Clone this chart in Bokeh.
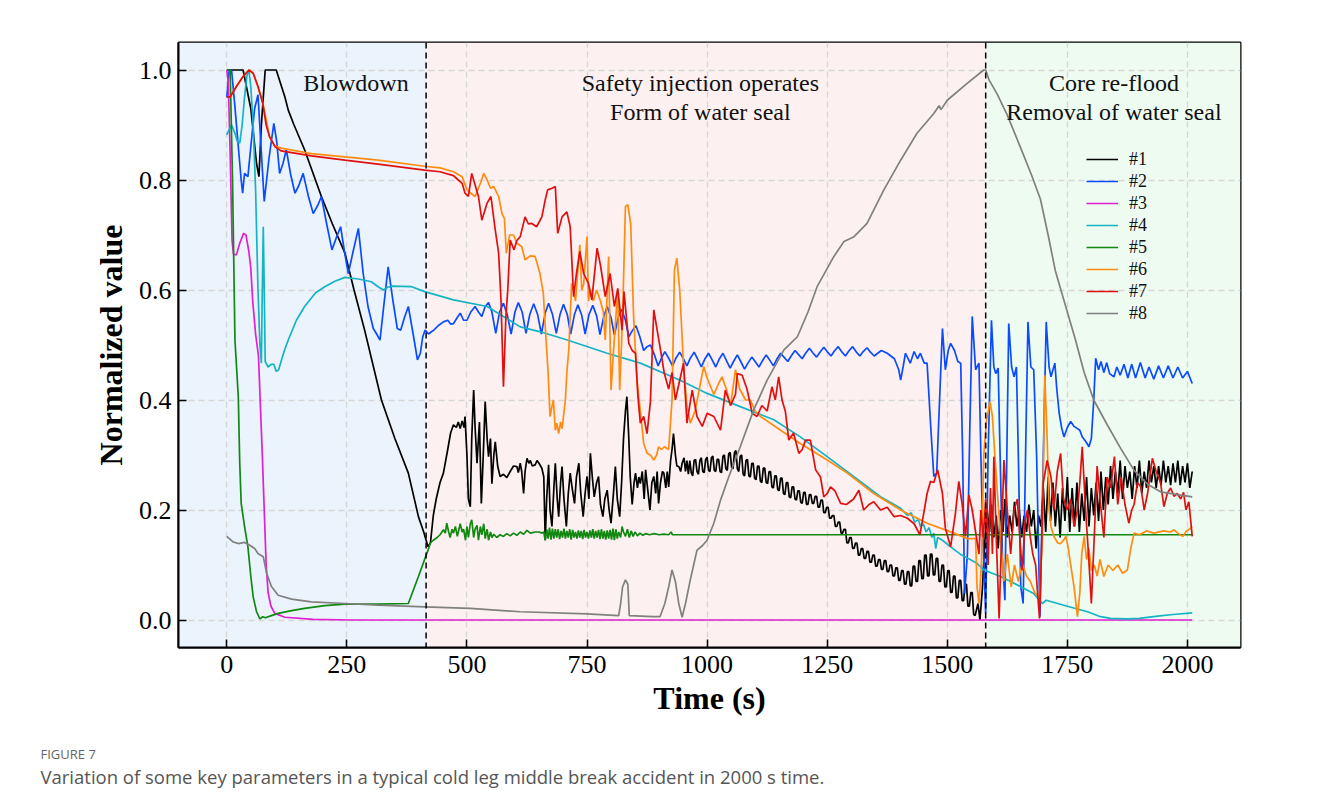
from bokeh.plotting import figure
from bokeh.layouts import column
from bokeh.models import (Range1d, Label, Span, BoxAnnotation, Legend, LegendItem,
                          FixedTicker, NumeralTickFormatter)
from bokeh.core.properties import value
from bokeh.embed import file_html
from bokeh.resources import INLINE

# ---------------- data (time in s, normalized value) ----------------
phase_bounds = [415, 1580]
phase_names = ["Blowdown", "Safety injection operates\nForm of water seal",
               "Core re-flood\nRemoval of water seal"]
series_names = ["#1", "#2", "#3", "#4", "#5", "#6", "#7", "#8"]
x_ticks = [0, 250, 500, 750, 1000, 1250, 1500, 1750, 2000]
y_ticks = [0.0, 0.2, 0.4, 0.6, 0.8, 1.0]
caption_head = "FIGURE 7"
caption_text = "Variation of some key parameters in a typical cold leg middle break accident in 2000 s time."

s1 = [(0,1.0),(34,1.0),(50,0.93),(62,0.83),(67,0.806),(72,0.9),(80,1.0),(103,1.0),(121,0.951),(128,0.927),
      (140,0.90),(162,0.855),(197,0.770),(220,0.72),(246,0.667),(265,0.60),(287,0.527),(322,0.40),(350,0.33),
      (378,0.267),(399,0.188),(410,0.16),(419,0.133),
      (424,0.14),(430,0.19),(436,0.22),(444,0.25),(451,0.267),(460,0.31),(466,0.34),(472,0.355),(478,0.35),
      (482,0.36),(486,0.348),(490,0.362),(494,0.35),(496,0.37),(500,0.30),(503,0.22),(507,0.206),(510,0.33),
      (514,0.418),(517,0.35),(521,0.285),(526,0.36),(530,0.212),(534,0.30),(538,0.397),(542,0.33),(545,0.297),
      (549,0.33),(552,0.248),(556,0.30),(559,0.324),(564,0.28),(569,0.261),(576,0.265),(583,0.259),(590,0.27),
      (597,0.28),(604,0.279),(607,0.268),(611,0.285),(614,0.27),(618,0.23),(621,0.27),(625,0.294),(629,0.285),
      (632,0.29),(636,0.28),(642,0.282),(646,0.29),(650,0.285),(656,0.276),(660,0.26),(663,0.145),(666,0.22),
      (670,0.282),(673,0.2),(677,0.17),(681,0.24),(684,0.285),(688,0.22),(691,0.188),(695,0.25),(698,0.279),
      (702,0.22),(707,0.17),(711,0.23),(715,0.267),(719,0.24),(724,0.212),(728,0.26),(733,0.285),(737,0.23),
      (742,0.188),(746,0.23),(750,0.261),(754,0.22),(757,0.303),(761,0.26),(765,0.224),(770,0.25),(774,0.261),
      (778,0.21),(783,0.188),(787,0.22),(792,0.236),(796,0.20),(800,0.176),(805,0.23),(809,0.279),(813,0.22),
      (818,0.188),(822,0.25),(826,0.33),(830,0.38),(833,0.406),(837,0.33),(840,0.26),(844,0.21),(848,0.25),
      (851,0.267),(855,0.24),(858,0.26),(861,0.248),(865,0.27),(869,0.22),(872,0.273),(876,0.24),(881,0.2),
      (885,0.25),(889,0.261),(893,0.23),(896,0.27),(899,0.212),(903,0.25),(907,0.27),(910,0.267),(914,0.24),
      (917,0.27),(920,0.242),(924,0.29),(927,0.31),(930,0.339),(934,0.30),(937,0.28),(941,0.279),(945,0.27),
      (948,0.285),
      (952,0.295),(955,0.27),(958,0.29),(961,0.265),(964,0.29),(967,0.268),(970,0.262),(973,0.29),(976,0.292),
      (979,0.27),(982,0.265),(985,0.29),(988,0.295),(991,0.27),(994,0.268),(997,0.292),(1000,0.296),(1003,0.272),
      (1006,0.27),(1009,0.295),(1012,0.298),(1015,0.272),(1018,0.27),(1021,0.292),(1024,0.292),(1027,0.27),
      (1030,0.268),(1033,0.298),(1036,0.3),(1039,0.275),(1042,0.272),(1045,0.302),(1048,0.305),(1051,0.278),
      (1054,0.275),(1057,0.305),(1060,0.308),(1063,0.275),(1066,0.27),(1069,0.298),(1072,0.3),(1075,0.265),
      (1078,0.262),(1081,0.29),(1084,0.292),(1087,0.262),(1090,0.26),(1093,0.285),(1096,0.285),(1099,0.258),
      (1102,0.255),(1105,0.28),(1108,0.28),(1111,0.252),(1114,0.25),(1117,0.276),(1120,0.276),(1123,0.25),
      (1126,0.248),(1129,0.27),(1132,0.27),(1135,0.242),(1138,0.24),(1141,0.262),(1144,0.262),(1147,0.237),
      (1150,0.235),(1153,0.258),(1156,0.258),(1159,0.23),(1162,0.228),(1165,0.25),(1168,0.25),(1171,0.224),
      (1174,0.222),(1177,0.242),(1180,0.242),(1183,0.22),(1186,0.218),(1189,0.235),(1192,0.235),(1195,0.214),
      (1198,0.212),(1201,0.232),(1204,0.232),(1207,0.21),(1210,0.21),(1213,0.228),(1216,0.228),(1219,0.212),
      (1222,0.212),(1225,0.225),(1228,0.225),(1231,0.205),(1234,0.205),(1237,0.218),(1240,0.218),(1243,0.195),
      (1246,0.195),(1249,0.205),(1252,0.205),(1255,0.185),(1258,0.185),(1261,0.19),(1264,0.19),(1267,0.17),
      (1270,0.17),(1273,0.178),(1276,0.178),(1279,0.158),(1282,0.158),(1285,0.165),(1288,0.165),(1291,0.14),
      (1294,0.14),(1297,0.15),(1300,0.15),(1303,0.13),(1306,0.13),(1309,0.14),(1312,0.14),(1315,0.118),
      (1318,0.118),(1321,0.13),(1324,0.13),(1327,0.112),(1330,0.112),(1333,0.125),(1336,0.125),(1339,0.105),
      (1342,0.105),(1345,0.118),(1348,0.118),(1351,0.098),(1354,0.098),(1357,0.11),(1360,0.11),(1363,0.092),
      (1366,0.092),(1369,0.108),(1372,0.108),(1375,0.088),(1378,0.088),(1381,0.1),(1384,0.1),(1387,0.08),
      (1390,0.08),(1393,0.095),(1396,0.095),(1399,0.072),(1402,0.072),(1405,0.09),(1408,0.09),(1411,0.065),
      (1414,0.065),(1417,0.088),(1420,0.088),(1423,0.062),(1426,0.062),(1429,0.098),(1432,0.098),(1435,0.07),
      (1438,0.07),(1441,0.108),(1444,0.108),(1447,0.075),(1450,0.075),(1453,0.118),(1456,0.118),(1459,0.08),
      (1462,0.08),(1465,0.12),(1468,0.12),(1471,0.082),(1474,0.082),(1477,0.112),(1480,0.112),(1483,0.07),
      (1486,0.07),(1489,0.1),(1492,0.1),(1495,0.06),(1498,0.06),(1501,0.09),(1504,0.09),(1507,0.05),(1510,0.05),
      (1513,0.08),(1516,0.08),(1519,0.04),(1522,0.04),(1525,0.072),(1528,0.072),(1531,0.035),(1534,0.035),
      (1537,0.065),(1540,0.065),(1543,0.025),(1546,0.025),(1549,0.05),(1552,0.05),(1555,0.01),(1558,0.008),
      (1564,0.03),(1568,0.0),(1573,0.055),
      (1578,0.14),(1583,0.2),(1588,0.16),(1592,0.21),(1597,0.15),(1602,0.19),(1606,0.13),(1611,0.2),(1616,0.16),
      (1620,0.22),(1625,0.15),(1630,0.19),(1635,0.16),(1640,0.215),(1645,0.17),(1650,0.2),(1655,0.15),(1660,0.19),
      (1665,0.16),(1670,0.21),(1675,0.17),(1680,0.2),(1685,0.13),(1690,0.19),(1695,0.17),(1700,0.24),(1705,0.16),
      (1710,0.26),(1715,0.18),(1720,0.25),(1725,0.17),(1730,0.23),(1735,0.15),(1740,0.24),(1745,0.18),(1750,0.26),
      (1755,0.16),(1760,0.24),(1765,0.17),(1770,0.25),(1775,0.16),(1780,0.23),(1785,0.18),(1790,0.26),(1795,0.17),
      (1800,0.24),(1805,0.19),(1810,0.25),(1815,0.18),(1820,0.27),(1825,0.2),(1830,0.26),(1835,0.21),(1840,0.28),
      (1845,0.22),(1850,0.27),(1855,0.23),(1860,0.29),(1865,0.22),(1870,0.28),(1875,0.24),(1880,0.27),(1885,0.22),
      (1890,0.28),(1895,0.24),(1900,0.29),(1905,0.23),(1910,0.27),(1915,0.24),(1920,0.29),(1925,0.25),(1930,0.28),
      (1935,0.24),(1940,0.28),(1945,0.245),(1950,0.29),(1955,0.25),(1960,0.28),(1965,0.245),(1970,0.285),
      (1975,0.25),(1980,0.29),(1985,0.245),(1990,0.28),(1995,0.25),(2000,0.285),(2005,0.24),(2010,0.27)]

s2 = [(0,0.95),(5,1.0),(10,1.0),(17,0.933),(24,0.861),(30,0.80),(33,0.776),(37,0.812),(44,0.806),(50,0.86),
      (58,0.93),(65,0.955),(70,0.88),(78,0.761),(88,0.84),(98,0.903),(104,0.87),(110,0.812),(117,0.83),(124,0.855),
      (133,0.81),(142,0.776),(150,0.79),(159,0.812),(170,0.77),(180,0.739),(190,0.755),(197,0.770),(208,0.72),
      (219,0.673),(228,0.695),(237,0.715),(245,0.67),(253,0.630),(263,0.67),(274,0.712),(284,0.63),(294,0.570),
      (305,0.53),(312,0.52),(319,0.509),(328,0.58),(336,0.642),(346,0.58),(355,0.53),(362,0.527),(370,0.55),
      (378,0.570),(388,0.52),(397,0.473),(403,0.485),(408,0.515),(413,0.527),(420,0.52),(426,0.524),(431,0.527),
      (440,0.535),(451,0.542),(460,0.545),(466,0.538),(472,0.539),(480,0.55),(486,0.558),(493,0.545),(500,0.545),
      (508,0.56),(517,0.570),(524,0.56),(531,0.552),(538,0.57),(545,0.577),(552,0.56),(560,0.521),(568,0.56),
      (576,0.576),(584,0.555),(592,0.52),(600,0.56),(607,0.577),(615,0.56),(623,0.521),(631,0.556),(639,0.575),
      (647,0.556),(655,0.52),(663,0.558),(670,0.576),(678,0.556),(686,0.521),(694,0.556),(701,0.574),(709,0.555),
      (716,0.52),(724,0.556),(731,0.573),(739,0.554),(746,0.52),(754,0.555),(762,0.572),(770,0.553),(777,0.519),
      (785,0.552),(792,0.57),(800,0.55),(807,0.518),(815,0.55),(822,0.565),(830,0.545),(837,0.515),(845,0.527),
      (852,0.535),(860,0.515),(868,0.49),(875,0.497),(882,0.50),(890,0.483),(898,0.462),(905,0.476),(912,0.488),
      (920,0.476),(928,0.462),(935,0.476),(943,0.487),(950,0.476),(958,0.462),(965,0.476),(973,0.487),(980,0.475),
      (988,0.46),(995,0.474),(1003,0.485),(1010,0.474),(1018,0.46),(1025,0.474),(1033,0.485),(1040,0.472),
      (1048,0.458),(1055,0.47),(1063,0.482),(1070,0.47),(1078,0.456),(1085,0.467),(1093,0.478),(1100,0.47),
      (1108,0.46),(1115,0.471),(1123,0.482),(1130,0.473),(1138,0.462),(1145,0.474),(1153,0.485),(1160,0.478),
      (1168,0.47),(1175,0.48),(1183,0.49),(1190,0.483),(1198,0.475),(1205,0.485),(1213,0.494),(1220,0.486),
      (1228,0.478),(1235,0.487),(1243,0.496),(1250,0.488),(1258,0.48),(1265,0.489),(1273,0.497),(1280,0.488),
      (1288,0.48),(1295,0.489),(1303,0.497),(1310,0.488),(1318,0.48),(1325,0.488),(1333,0.495),(1340,0.487),
      (1348,0.48),(1355,0.485),(1363,0.49),
      (1375,0.485),(1390,0.475),(1399,0.455),(1403,0.436),(1408,0.46),(1413,0.485),(1423,0.467),(1431,0.488),
      (1438,0.475),(1444,0.485),(1452,0.467),(1458,0.467),(1465,0.36),(1472,0.261),(1478,0.267),(1484,0.4),
      (1490,0.530),(1496,0.455),(1502,0.49),(1507,0.503),(1515,0.49),(1522,0.47),(1528,0.467),(1532,0.3),
      (1536,0.048),(1542,0.12),(1547,0.35),(1552,0.552),(1559,0.455),(1566,0.467),(1570,0.3),(1574,0.158),
      (1580,0.012),(1585,0.3),(1592,0.545),(1597,0.46),(1601,0.448),(1606,0.458),(1610,0.3),(1615,0.109),
      (1620,0.036),(1624,0.3),(1628,0.539),(1634,0.46),(1639,0.442),(1644,0.46),(1648,0.3),(1653,0.06),
      (1658,0.03),(1663,0.3),(1668,0.542),(1674,0.46),(1680,0.455),(1686,0.3),(1693,0.006),(1700,0.3),
      (1706,0.542),(1712,0.46),(1716,0.442),(1720,0.455),(1724,0.467),(1728,0.42),(1733,0.376),(1738,0.35),
      (1743,0.333),(1750,0.35),(1757,0.361),(1764,0.352),(1771,0.348),(1776,0.345),(1781,0.333),(1788,0.325),
      (1795,0.315),(1800,0.33),(1805,0.4),(1809,0.476),(1815,0.455),(1820,0.47),(1826,0.45),(1832,0.468),
      (1838,0.448),(1847,0.442),(1853,0.46),(1860,0.445),(1868,0.465),(1876,0.44),(1884,0.465),(1892,0.44),
      (1902,0.468),(1912,0.44),(1920,0.46),(1930,0.438),(1940,0.462),(1950,0.44),(1960,0.462),(1970,0.44),
      (1980,0.46),(1990,0.44),(2000,0.452),(2010,0.43)]

s3 = [(0,1.0),(3,0.98),(7,0.85),(11,0.69),(14,0.665),(20,0.664),(27,0.685),(35,0.703),(40,0.70),(46,0.67),
      (50,0.64),(54,0.58),(60,0.52),(66,0.48),(70,0.39),(74,0.3),(78,0.2),(82,0.1),(86,0.05),(92,0.025),
      (100,0.012),(121,0.005),(180,0.001),(260,0.0),(2010,0.0)]

s4 = [(0,0.882),(4,0.89),(10,0.9),(17,0.885),(22,0.87),(27,0.867),(32,0.9),(37,0.951),(42,0.99),(46,1.0),
      (50,0.97),(55,0.9),(60,0.782),(65,0.6),(69,0.5),(72,0.467),(74,0.6),(76,0.715),(78,0.6),(80,0.47),
      (86,0.46),(93,0.465),(98,0.465),(103,0.452),(108,0.455),(113,0.47),(120,0.49),(128,0.509),(145,0.545),
      (162,0.570),(185,0.595),(204,0.606),(225,0.616),(246,0.623),(274,0.62),(301,0.615),(315,0.606),(326,0.6),
      (335,0.605),(344,0.607),(385,0.606),(412,0.597),(472,0.582),(542,0.570),(611,0.533),(653,0.524),(709,0.509),
      (792,0.485),(861,0.467),(944,0.436),(1000,0.412),(1069,0.388),(1139,0.364),(1194,0.333),(1250,0.297),
      (1305,0.261),(1361,0.224),(1403,0.203),(1417,0.19),(1425,0.195),(1432,0.178),(1440,0.183),(1444,0.17),
      (1450,0.175),(1456,0.16),(1462,0.168),(1468,0.15),(1472,0.158),(1476,0.13),(1480,0.15),(1490,0.145),
      (1507,0.133),(1530,0.118),(1562,0.103),(1576,0.091),(1611,0.079),(1650,0.062),(1680,0.048),(1698,0.030),
      (1706,0.036),(1750,0.025),(1792,0.015),(1819,0.006),(1840,0.003),(1875,0.002),(1900,0.003),(1938,0.007),
      (1970,0.01),(2010,0.013)]

s5 = [(0,1.0),(7,1.0),(12,0.8),(17,0.509),(24,0.406),(27,0.285),(30,0.212),(37,0.17),(44,0.133),(50,0.08),
      (55,0.042),(62,0.015),(69,0.002),(75,0.006),(80,0.004),(93,0.008),(107,0.012),(135,0.017),(162,0.021),
      (204,0.026),(246,0.029),(315,0.029),(378,0.030),(399,0.079),(419,0.127),(424,0.14),(430,0.145),(438,0.15),
      (444,0.155),(451,0.164),(455,0.158),(458,0.176),(462,0.16),(465,0.15),(469,0.165),(472,0.158),(476,0.17),
      (480,0.152),(486,0.175),(490,0.16),(493,0.165),(497,0.145),(500,0.17),(503,0.15),(507,0.175),(510,0.182),
      (514,0.15),(517,0.165),(521,0.172),(524,0.145),(528,0.17),(531,0.155),(535,0.175),(538,0.148),(542,0.165),
      (545,0.145),(549,0.16),(552,0.15),(556,0.156),(562,0.15),(569,0.155),(576,0.152),(583,0.157),(590,0.153),
      (597,0.158),(604,0.154),(611,0.16),(618,0.156),(625,0.163),(632,0.158),(642,0.16),(650,0.16),(656,0.158),
      (660,0.16),(663,0.145),(666,0.165),(669,0.148),(672,0.168),(675,0.146),(678,0.166),(681,0.148),(684,0.165),
      (687,0.15),(690,0.165),(693,0.147),(696,0.162),(699,0.15),(702,0.166),(705,0.148),(708,0.162),(711,0.15),
      (714,0.165),(717,0.146),(720,0.164),(723,0.15),(726,0.16),(729,0.148),(732,0.163),(735,0.15),(738,0.162),
      (741,0.147),(744,0.164),(747,0.15),(750,0.16),(753,0.148),(756,0.163),(759,0.15),(762,0.165),(765,0.148),
      (768,0.162),(771,0.15),(774,0.164),(777,0.147),(780,0.165),(783,0.148),(786,0.162),(789,0.146),(792,0.163),
      (795,0.148),(798,0.164),(801,0.146),(804,0.166),(807,0.145),(810,0.165),(813,0.148),(816,0.16),(820,0.15),
      (823,0.17),(826,0.16),(830,0.152),(834,0.165),(838,0.15),(842,0.162),(846,0.152),(850,0.16),(855,0.153),
      (860,0.158),(866,0.154),(872,0.157),(880,0.155),(890,0.157),(900,0.155),(910,0.156),(920,0.155),(925,0.16),
      (928,0.155),(950,0.155),(2010,0.155)]

s6 = [(0,0.951),(7,0.951),(20,0.97),(34,0.988),(46,1.0),(55,0.994),(65,0.97),(75,0.94),(82,0.91),(89,0.879),
      (100,0.862),(113,0.858),(176,0.848),(246,0.842),(315,0.836),(412,0.825),(444,0.822),(472,0.815),(490,0.806),
      (500,0.782),(508,0.776),(517,0.770),(528,0.794),(535,0.812),(542,0.80),(549,0.785),(556,0.788),(566,0.770),
      (573,0.739),(578,0.73),(582,0.667),(589,0.70),(597,0.70),(604,0.685),(614,0.679),(621,0.655),(632,0.662),
      (642,0.661),(652,0.630),(659,0.594),(664,0.52),(669,0.45),(673,0.370),(677,0.388),(680,0.4),(684,0.345),
      (687,0.358),(691,0.339),(695,0.36),(698,0.348),(701,0.37),(705,0.40),(708,0.45),(712,0.491),(718,0.612),
      (722,0.6),(726,0.58),(735,0.682),(739,0.6),(743,0.61),(750,0.697),(753,0.58),(757,0.6),(763,0.58),(770,0.6),
      (778,0.58),(784,0.56),(788,0.509),(795,0.661),(800,0.418),(806,0.5),(814,0.6),(818,0.418),(824,0.55),
      (830,0.752),(835,0.755),(841,0.72),(847,0.552),(854,0.436),(861,0.38),(868,0.321),(875,0.303),(882,0.30),
      (889,0.291),(895,0.30),(899,0.315),(905,0.31),(911,0.315),(920,0.31),(927,0.4),(932,0.636),(937,0.658),
      (943,0.6),(951,0.461),(958,0.39),(965,0.358),(975,0.38),(986,0.430),(993,0.461),(1000,0.44),(1014,0.41),
      (1024,0.43),(1031,0.442),(1040,0.42),(1049,0.39),(1059,0.455),(1068,0.42),(1080,0.40),(1090,0.40),
      (1100,0.38),(1111,0.370),(1153,0.345),(1194,0.321),(1250,0.291),(1292,0.267),(1347,0.230),(1403,0.2),
      (1458,0.176),(1514,0.158),(1542,0.148),(1559,0.148),(1562,0.06),(1566,0.03),(1571,0.1),(1576,0.3),
      (1582,0.364),(1589,0.397),(1594,0.37),(1599,0.3),(1604,0.236),(1611,0.15),(1618,0.07),(1625,0.12),
      (1633,0.06),(1640,0.1),(1648,0.07),(1656,0.103),(1665,0.08),(1673,0.07),(1682,0.05),(1692,0.04),(1698,0.15),
      (1703,0.445),(1708,0.33),(1712,0.2),(1716,0.17),(1722,0.152),(1730,0.14),(1736,0.139),(1742,0.145),
      (1747,0.152),(1752,0.13),(1757,0.1),(1764,0.06),(1771,0.006),(1776,0.05),(1780,0.12),(1785,0.152),
      (1790,0.11),(1795,0.13),(1800,0.09),(1806,0.1),(1812,0.08),(1818,0.11),(1826,0.079),(1835,0.1),(1845,0.09),
      (1855,0.1),(1865,0.085),(1875,0.091),(1882,0.13),(1889,0.158),(1900,0.155),(1915,0.162),(1930,0.158),
      (1950,0.162),(1965,0.16),(1972,0.164),(1980,0.158),(1990,0.152),(1998,0.162),(2004,0.165),(2010,0.17)]

s7 = [(0,0.951),(7,0.951),(20,0.97),(34,0.988),(46,1.0),(55,0.994),(65,0.97),(75,0.939),(82,0.90),(89,0.879),
      (100,0.861),(113,0.853),(176,0.844),(246,0.836),(315,0.829),(412,0.818),(444,0.815),(472,0.808),(482,0.80),
      (490,0.794),(496,0.776),(503,0.770),(510,0.812),(514,0.80),(524,0.770),(531,0.727),(542,0.758),(550,0.770),
      (559,0.709),(566,0.667),(571,0.58),(576,0.424),(581,0.55),(585,0.6),(590,0.691),(598,0.673),(604,0.69),
      (611,0.697),(621,0.733),(628,0.72),(635,0.721),(645,0.715),(656,0.733),(663,0.764),(668,0.782),(677,0.785),
      (684,0.788),(689,0.703),(698,0.733),(708,0.742),(715,0.715),(722,0.588),(728,0.63),(735,0.670),(743,0.630),
      (753,0.612),(760,0.582),(771,0.676),(778,0.645),(788,0.588),(798,0.630),(807,0.570),(814,0.603),(823,0.527),
      (827,0.597),(837,0.503),(844,0.49),(851,0.485),(856,0.406),(861,0.358),(868,0.37),(875,0.339),(882,0.397),
      (889,0.564),(896,0.527),(903,0.491),(911,0.448),(920,0.42),(927,0.45),(934,0.4),(943,0.436),(951,0.467),
      (958,0.358),(969,0.418),(979,0.37),(990,0.352),(1000,0.376),(1014,0.37),(1028,0.345),(1038,0.418),
      (1049,0.39),(1059,0.41),(1063,0.448),(1073,0.445),(1083,0.42),(1094,0.376),(1104,0.37),(1114,0.39),
      (1125,0.38),(1135,0.424),(1142,0.40),(1149,0.442),(1156,0.40),(1163,0.379),(1170,0.327),(1180,0.34),
      (1191,0.303),(1198,0.31),(1205,0.327),(1215,0.327),(1226,0.273),(1236,0.26),(1243,0.224),(1250,0.23),
      (1257,0.242),(1266,0.235),(1278,0.212),(1290,0.21),(1305,0.22),(1316,0.236),(1326,0.2),(1337,0.21),
      (1347,0.215),(1361,0.2),(1375,0.205),(1389,0.188),(1403,0.19),(1417,0.185),(1431,0.175),(1443,0.155),
      (1451,0.194),(1458,0.230),(1465,0.252),(1472,0.25),(1480,0.273),(1490,0.23),(1496,0.167),(1507,0.133),
      (1517,0.194),(1524,0.252),(1531,0.21),(1538,0.152),(1545,0.227),(1552,0.2),(1559,0.16),(1566,0.12),
      (1570,0.2),(1575,0.15),(1580,0.22),(1585,0.1),(1590,0.24),(1594,0.12),(1597,0.297),(1602,0.15),(1608,0.003),
      (1613,0.15),(1618,0.291),(1625,0.2),(1632,0.12),(1639,0.2),(1646,0.22),(1651,0.15),(1656,0.09),(1662,0.18),
      (1667,0.2),(1673,0.15),(1678,0.12),(1684,0.1),(1688,0.05),(1692,0.003),(1696,0.12),(1700,0.25),(1708,0.29),
      (1716,0.26),(1722,0.2),(1729,0.27),(1736,0.303),(1742,0.22),(1750,0.2),(1757,0.22),(1764,0.17),(1771,0.2),
      (1776,0.25),(1781,0.315),(1788,0.2),(1794,0.12),(1800,0.03),(1806,0.15),(1812,0.28),(1818,0.22),(1826,0.15),
      (1833,0.26),(1840,0.24),(1848,0.297),(1855,0.21),(1862,0.26),(1870,0.21),(1878,0.176),(1884,0.2),(1889,0.21),
      (1896,0.25),(1903,0.242),(1910,0.2),(1917,0.23),(1927,0.294),(1935,0.27),(1944,0.25),(1951,0.206),
      (1958,0.23),(1965,0.24),(1972,0.225),(1979,0.23),(1986,0.22),(1992,0.232),(1997,0.2),(2003,0.215),(2010,0.152)]

s8 = [(0,0.152),(13,0.142),(24,0.139),(37,0.141),(48,0.136),(58,0.13),(65,0.121),(76,0.115),(83,0.085),(93,0.061),
      (107,0.045),(135,0.038),(176,0.033),(246,0.030),(315,0.027),(412,0.024),(507,0.021),(611,0.015),(750,0.011),
      (816,0.008),(820,0.03),(824,0.06),(830,0.073),(835,0.065),(838,0.008),(888,0.006),(902,0.006),(912,0.03),
      (920,0.06),(927,0.091),(934,0.07),(941,0.03),(948,0.005),(955,0.03),(965,0.073),(972,0.1),(979,0.127),
      (990,0.135),(1000,0.145),(1014,0.176),(1028,0.218),(1045,0.26),(1069,0.315),(1097,0.382),(1125,0.436),
      (1160,0.491),(1188,0.515),(1210,0.56),(1229,0.606),(1264,0.661),(1285,0.688),(1306,0.697),(1333,0.721),
      (1368,0.782),(1403,0.836),(1437,0.885),(1472,0.921),(1483,0.935),(1487,0.928),(1500,0.945),(1542,0.976),
      (1576,1.0),(1580,1.0),(1587,0.982),(1604,0.956),(1625,0.918),(1653,0.858),(1675,0.81),(1694,0.765),
      (1710,0.70),(1725,0.635),(1745,0.575),(1767,0.509),(1785,0.45),(1805,0.40),(1833,0.355),(1861,0.312),
      (1889,0.272),(1917,0.247),(1944,0.233),(1986,0.227),(2010,0.224)]

series = [s1, s2, s3, s4, s5, s6, s7, s8]
colors = ["#000000", "#0a4bff", "#e020d0", "#14b4c4", "#118811", "#ff8c10", "#e01010", "#808080"]

SERIF = "Liberation Serif"

p = figure(width=1319, height=730, output_backend="svg", toolbar_location=None,
           x_range=Range1d(-100.5, 2110.5), y_range=Range1d(-0.05, 1.05),
           min_border_left=178, min_border_right=79, min_border_top=42, min_border_bottom=83,
           background_fill_color="white", border_fill_color="white")
p.frame_align = False

# phase background bands
band_colors = ["#ebf3fc", "#fdf0f0", "#eefbf1"]
p.add_layout(BoxAnnotation(right=phase_bounds[0], fill_color=band_colors[0], fill_alpha=1.0,
                           line_alpha=0, level="image"))
p.add_layout(BoxAnnotation(left=phase_bounds[0], right=phase_bounds[1], fill_color=band_colors[1],
                           fill_alpha=1.0, line_alpha=0, level="image"))
p.add_layout(BoxAnnotation(left=phase_bounds[1], fill_color=band_colors[2], fill_alpha=1.0,
                           line_alpha=0, level="image"))

renderers = []
for s, c in zip(series, colors):
    xs = [a for a, b in s]
    ys = [b for a, b in s]
    renderers.append(p.line(xs, ys, line_color=c, line_width=1.7))

for b in phase_bounds:
    p.add_layout(Span(location=b, dimension="height", line_color="black", line_width=1.5,
                      line_dash="6 4"))

# grid
for g in (p.xgrid, p.ygrid):
    g.grid_line_color = "#d6d6d6"
    g.grid_line_dash = "6 4"
    g.grid_line_width = 1.3
p.xaxis.ticker = FixedTicker(ticks=x_ticks)
p.yaxis.ticker = FixedTicker(ticks=y_ticks)
p.yaxis.formatter = NumeralTickFormatter(format="0.0")

for ax in (p.xaxis, p.yaxis):
    ax.axis_line_color = "black"
    ax.axis_line_width = 2
    ax.major_tick_in = 8
    ax.major_tick_out = 0
    ax.major_tick_line_width = 1.5
    ax.minor_tick_line_color = None
    ax.major_label_text_font = SERIF
    ax.major_label_text_font_size = "26px"
    ax.major_label_text_color = "black"
    ax.axis_label_text_font = SERIF
    ax.axis_label_text_font_size = "32px"
    ax.axis_label_text_font_style = "bold"
    ax.axis_label_text_color = "black"
p.xaxis.axis_label = "Time (s)"
p.yaxis.axis_label = "Normalized value"
p.xaxis.major_label_standoff = 8
p.yaxis.major_label_standoff = 7
p.xaxis.axis_label_standoff = 4
p.yaxis.axis_label_standoff = 7

p.outline_line_color = "black"
p.outline_line_width = 2
p.outline_line_alpha = 1

# phase labels
label_pos = [(269, [0.976]), (986, [0.976, 0.924]), (1847, [0.976, 0.924])]
for name, (lx, lys) in zip(phase_names, label_pos):
    for line_txt, ly in zip(name.split("\n"), lys):
        p.add_layout(Label(x=lx, y=ly, text=line_txt, text_font=SERIF, text_font_size="24px",
                           text_align="center", text_baseline="middle", text_color="#111111"))

legend = Legend(items=[LegendItem(label=n, renderers=[r]) for n, r in zip(series_names, renderers)],
                location=(908, 323), orientation="vertical",
                glyph_width=32, glyph_height=22, label_height=22, spacing=0,
                label_standoff=11, padding=0, margin=0,
                label_text_font=SERIF, label_text_font_size="18px", label_text_color="#111111",
                border_line_alpha=0, background_fill_alpha=0)
p.add_layout(legend)

# caption strip below the chart
cap = figure(width=1319, height=77, output_backend="svg", toolbar_location=None,
             x_range=Range1d(0, 1319), y_range=Range1d(77, 0),
             x_axis_location=None, y_axis_location=None,
             min_border=0, min_border_left=0, min_border_right=0, min_border_top=0, min_border_bottom=0,
             outline_line_color=None, background_fill_color="white", border_fill_color="white")
cap.frame_align = False
cap.grid.visible = False
cap.text(x=[40], y=[23], text=[caption_head], text_font=value("Open Sans"), text_font_size="13px",
         text_color="#666666", text_baseline="middle", text_font_style="normal")
cap.text(x=[40], y=[46], text=[caption_text], text_font=value("Open Sans"), text_font_size="18.5px",
         text_color="#555555", text_baseline="middle")

layout = column(p, cap, spacing=0)
open("out.html", "w").write(file_html(layout, INLINE))
